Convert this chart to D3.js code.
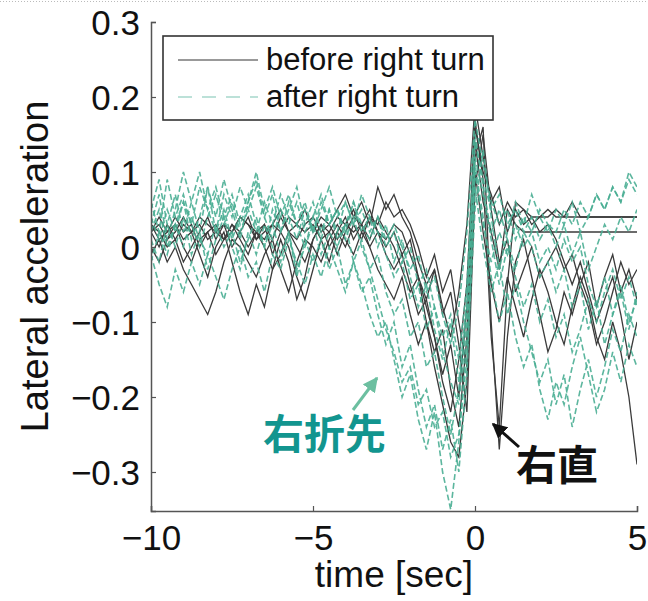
<!DOCTYPE html>
<html>
<head>
<meta charset="utf-8">
<script src="https://cdn.jsdelivr.net/npm/d3@7"></script>
<style>
  body { margin: 0; background: #fff; }
  svg { display: block; font-family: "Liberation Sans", Arial, sans-serif; }
</style>
</head>
<body>
<div id="chart"></div>
<script>
"use strict"

//-----------------------------DATA-----------------------------//
const time = [-10,-9.75,-9.5,-9.25,-9,-8.75,-8.5,-8.25,-8,-7.75,-7.5,-7.25,-7,-6.75,-6.5,-6.25,-6,-5.75,-5.5,-5.25,
    -5,-4.75,-4.5,-4.25,-4,-3.75,-3.5,-3.25,-3,-2.75,-2.5,-2.25,-2,-1.75,-1.5,-1.25,-1,-0.75,-0.5,-0.25,
    0,0.25,0.5,0.75,1,1.25,1.5,1.75,2,2.25,2.5,2.75,3,3.25,3.5,3.75,4,4.25,4.5,4.75,5];

// before right turn (solid)
const before1 = [.02,.03,.01,.02,.04,.02,.03,.01,.02,.03,.02,.04,.03,.02,.01,.03,.02,.04,.03,.02,.03,.01,.02,.04,.03,.02,.03,.05,.02,.01,.03,.02,
    -.01,-.04,-.08,-.12,-.18,-.22,-.15,-.05,.17,.09,-.12,-.24,-.05,.06,.05,.04,.04,.05,.04,.04,.04,.04,.04,.04,.04,.04,.04,.04,.04];
const before2 = [-.01,.01,-.02,.00,-.03,-.05,-.07,-.09,-.06,-.02,.01,.00,-.02,-.04,-.01,.01,-.03,-.06,-.02,.01,
    .00,-.02,.01,.03,.01,-.01,.02,.00,-.03,-.05,-.07,-.04,-.09,-.13,-.10,-.16,-.21,-.26,-.28,-.18,
    .10,.02,-.05,-.10,-.04,-.08,-.12,-.07,-.03,-.06,-.10,-.13,-.08,-.04,-.07,-.12,-.15,-.10,-.14,-.20,-.29];
const before3 = [.03,.02,.00,.01,.03,.02,-.01,-.04,.00,.02,-.02,-.06,-.09,-.05,-.08,-.03,.01,-.02,-.07,-.04,
    .01,.03,.02,-.01,.02,.04,.03,.01,.04,.02,.00,-.03,-.06,-.04,-.10,-.14,-.11,-.19,-.24,-.12,
    .14,.06,.02,-.03,.05,.03,.02,.02,.02,.02,.02,.02,.02,.02,.02,.02,.02,.02,.02,.02,.02];
const before4 = [.02,.04,.02,.03,.01,.02,.04,.03,.02,.01,.03,.02,.00,.02,.03,.01,.04,.02,.03,.05,
    .02,.04,.03,.05,.07,.04,.06,.03,.08,.05,.07,.04,.02,-.02,-.05,-.03,-.08,-.12,-.06,.03,
    .19,.12,.06,.08,.02,.05,.03,.04,.02,.03,.01,-.02,-.05,-.02,-.06,-.10,-.07,-.04,-.09,-.15,-.10];
const before5 = [.00,-.02,.01,.03,.00,-.02,.01,.02,-.01,.01,.03,.01,-.01,.02,.00,-.03,-.01,.02,.00,-.02,
    .01,.03,.00,.02,.04,.01,.03,.00,.02,-.01,-.03,-.01,-.05,-.09,-.07,-.12,-.17,-.13,-.20,-.08,
    .12,.16,-.10,-.27,-.12,-.02,.01,-.04,-.09,-.14,-.11,-.06,-.09,-.05,-.08,-.13,-.10,-.06,-.02,-.05,-.03];
const before6 = [.02,.00,.03,.01,-.02,.00,.02,.04,.01,.03,.00,.02,.04,.01,.03,-.01,.02,.00,-.04,-.07,
    -.03,.01,-.02,.02,.00,.03,.01,.04,.02,.00,.02,-.01,.01,-.04,-.07,-.03,-.09,-.06,-.13,-.22,
    .08,.15,.05,-.02,.01,-.06,-.03,.00,-.04,-.02,.00,-.03,-.01,-.05,-.02,-.08,-.04,-.01,-.06,-.03,-.07];
const before7 = [.03,.01,.02,.04,.02,.03,.00,.02,.03,.01,.02,.04,.03,.01,.02,.03,.05,.02,.01,.03,
    .04,.02,.03,.01,.03,.05,.02,.04,.03,.06,.04,.05,.03,.00,-.04,-.01,-.06,-.03,-.10,-.16,
    .16,.10,.07,.03,.06,.04,.05,.03,.04,.04,.05,.04,.06,.04,.04,.04,.04,.04,.04,.04,.04];

// after right turn (dashed)
const after1 = [.06,.02,.09,.04,.07,.03,.08,.05,.02,.07,.04,.08,.05,.02,.06,.03,.07,.04,.01,.05,
    .02,.06,.03,.05,.01,.04,.00,-.03,-.07,-.11,-.14,-.18,-.16,-.21,-.19,-.24,-.22,-.28,-.25,-.15,
    .05,.13,.04,-.03,.02,.06,.03,.07,.04,.02,.05,.03,.06,.02,.04,.07,.05,.08,.06,.09,.07];
const after2 = [-.01,-.05,-.08,-.03,-.06,-.02,-.05,-.01,-.04,-.07,-.03,.00,-.04,-.02,-.06,-.01,-.03,.01,-.02,-.05,
    -.01,-.04,.00,-.03,-.06,-.02,-.05,-.09,-.12,-.10,-.15,-.20,-.17,-.23,-.27,-.22,-.30,-.35,-.26,-.12,
    .08,.00,-.06,-.02,-.09,-.05,-.10,-.14,-.18,-.15,-.21,-.17,-.24,-.19,-.15,-.20,-.16,-.11,-.14,-.09,-.12];
const after3 = [.03,.07,.01,.05,.10,.06,.02,.08,.04,.09,.05,.01,.06,.09,.04,.07,.02,.05,.08,.03,
    .06,.02,.05,.01,.03,.06,.02,.04,.00,.03,-.02,.01,-.04,-.08,-.05,-.11,-.15,-.10,-.18,-.07,
    .15,.08,.02,.05,.01,-.03,.02,.00,-.04,-.02,-.06,-.03,-.08,-.05,-.11,-.07,-.13,-.09,-.05,-.10,-.07];
const after4 = [.01,-.02,.03,.00,.04,-.01,.02,-.03,.01,.04,.00,-.03,.02,-.01,.03,.00,-.02,.02,-.04,.01,
    -.02,.01,-.03,.00,-.05,-.02,-.06,-.04,-.09,-.13,-.10,-.16,-.13,-.19,-.24,-.21,-.27,-.23,-.30,-.17,
    .11,.04,-.04,-.10,-.06,-.12,-.16,-.13,-.19,-.23,-.18,-.21,-.16,-.12,-.17,-.22,-.19,-.14,-.18,-.13,-.16];
const after5 = [.04,.01,.05,.02,.06,.03,.00,.04,.07,.03,.06,.02,.05,.08,.04,.01,.05,.03,.06,.02,
    .04,.07,.03,.05,.02,.06,.03,.01,.04,.00,.02,-.02,.00,-.05,-.03,-.08,-.12,-.09,-.15,-.05,
    .14,.09,.05,.07,.03,.05,.02,.04,.01,.03,.02,.05,.03,.06,.04,.07,.05,.08,.06,.10,.08];
const after6 = [.02,.05,.00,.03,.06,.01,.04,.08,.02,.05,.01,.04,.07,.03,.00,.05,.02,.06,.03,.00,
    .04,.01,.05,.02,.06,.03,.07,.04,.02,-.01,-.04,-.02,-.07,-.05,-.11,-.08,-.14,-.18,-.21,-.10,
    .12,.07,.01,-.05,.00,-.04,-.08,-.05,-.10,-.07,-.12,-.09,-.14,-.11,-.07,-.10,-.06,-.03,-.07,-.04,-.08];
const after7 = [-.02,.02,-.01,.03,.00,.04,.01,-.01,.03,.00,.02,-.02,.01,.04,.00,.03,-.01,.02,-.03,.00,
    .03,-.01,.02,.00,.03,-.02,.01,-.03,-.01,-.06,-.09,-.07,-.12,-.10,-.16,-.14,-.20,-.25,-.19,-.08,
    .10,.03,-.02,.02,-.01,.03,.00,.02,-.02,.00,-.03,.01,-.02,.00,-.05,-.08,-.04,-.09,-.06,-.11,-.06];
const after8 = [.05,.09,.03,.07,.02,.06,.10,.05,.08,.04,.07,.03,.06,.10,.05,.08,.04,.07,.03,.06,
    .02,.05,.08,.04,.06,.03,.05,.02,.04,.01,.03,.00,-.03,-.01,-.06,-.04,-.09,-.13,-.08,.02,
    .17,.11,.06,.03,.05,.01,.04,.02,.05,.03,.00,.03,-.01,.02,-.03,.00,.03,.01,.04,.02,.05];

const beforeSeries = [before1, before2, before3, before4, before5, before6, before7];
const afterSeries = [after1, after2, after3, after4, after5, after6, after7, after8];

const xTicks = [-10, -5, 0, 5];
const yTicks = [0.3, 0.2, 0.1, 0, -0.1, -0.2, -0.3];
const legendLabels = ["before right turn", "after right turn"];

//-----------------------------SVG------------------------------//
const width = 648;
const height = 601;
const plotLeft = 151, plotRight = 637, plotTop = 22, plotBottom = 511;

const svg = d3.select("#chart").append("svg")
    .attr("width", width)
    .attr("height", height);

// dotted page edge at the top of the picture
svg.append("line")
    .attr("x1", 0).attr("x2", width)
    .attr("y1", 1.5).attr("y2", 1.5)
    .attr("stroke", "#bbb")
    .attr("stroke-dasharray", "1,2");

//----------------------------SCALES----------------------------//
const xScale = d3.scaleLinear().domain([-10, 5]).range([plotLeft, plotRight]);
const yScale = d3.scaleLinear().domain([-0.352, 0.3]).range([plotBottom, plotTop]);

const fmt = d => d === 0 ? "0" : (d < 0 ? "\u2212" : "") + (Number.isInteger(d) ? Math.abs(d) : d3.format(".1f")(Math.abs(d)));

svg.append("clipPath").attr("id", "plotclip")
    .append("rect")
    .attr("x", plotLeft).attr("y", plotTop)
    .attr("width", plotRight - plotLeft).attr("height", plotBottom - plotTop);

//----------------------------LINES-----------------------------//
const line = d3.line()
    .x((d, i) => xScale(time[i]))
    .y(d => yScale(d));

const plot = svg.append("g").attr("clip-path", "url(#plotclip)");

plot.selectAll(".before")
    .data(beforeSeries)
    .enter()
    .append("path")
    .attr("class", "before")
    .attr("d", line)
    .attr("fill", "none")
    .attr("stroke", "#3b3b3b")
    .attr("stroke-width", 1.3)
    .attr("stroke-linejoin", "miter");

plot.selectAll(".after")
    .data(afterSeries)
    .enter()
    .append("path")
    .attr("class", "after")
    .attr("d", line)
    .attr("fill", "none")
    .attr("stroke", "#4aae93")
    .attr("stroke-width", 1.6)
    .attr("stroke-dasharray", "6,3")
    .attr("opacity", 0.9);

//-----------------------------AXES-----------------------------//
const xaxis = d3.axisBottom(xScale)
    .tickValues(xTicks)
    .tickSize(-5)
    .tickPadding(14)
    .tickFormat(fmt);

const yaxis = d3.axisLeft(yScale)
    .tickValues(yTicks)
    .tickSize(-5)
    .tickPadding(11)
    .tickFormat(fmt);

const xaxisEl = svg.append("g")
    .attr("transform", "translate(0," + plotBottom + ")")
    .call(xaxis);

const yaxisEl = svg.append("g")
    .attr("transform", "translate(" + plotLeft + ",0)")
    .call(yaxis);

[xaxisEl, yaxisEl].forEach(g => {
    g.select(".domain").attr("stroke", "#555").attr("stroke-width", 1.5);
    g.selectAll(".tick line").attr("stroke", "#555").attr("stroke-width", 1.2);
    g.selectAll(".tick text")
        .attr("fill", "#111")
        .style("font-size", "35px")
        .style("font-family", "Liberation Sans, Arial, sans-serif");
});
yaxisEl.selectAll(".tick text").attr("dy", "0.36em");
xaxisEl.selectAll(".tick text").attr("dy", "0.72em");

svg.append("text")
    .attr("x", (plotLeft + plotRight) / 2)
    .attr("y", 587)
    .attr("text-anchor", "middle")
    .style("font-size", "37px")
    .attr("fill", "#111")
    .text("time [sec]");

svg.append("text")
    .attr("transform", "translate(48," + ((plotTop + plotBottom) / 2) + ") rotate(-90)")
    .attr("text-anchor", "middle")
    .style("font-size", "38px")
    .attr("fill", "#111")
    .text("Lateral acceleration");

//----------------------------LEGEND----------------------------//
const legend = svg.append("g");
legend.append("rect")
    .attr("x", 163).attr("y", 36)
    .attr("width", 330).attr("height", 84)
    .attr("fill", "#fff")
    .attr("stroke", "#333")
    .attr("stroke-width", 1.6);

legend.selectAll(".lg-line")
    .data(legendLabels)
    .enter()
    .append("line")
    .attr("x1", 178).attr("x2", 258)
    .attr("y1", (d, i) => 60 + i * 37)
    .attr("y2", (d, i) => 60 + i * 37)
    .attr("stroke", (d, i) => i === 0 ? "#777" : "#a6d8cc")
    .attr("stroke-width", 1.6)
    .attr("stroke-dasharray", (d, i) => i === 0 ? null : "14,10");

legend.selectAll(".lg-text")
    .data(legendLabels)
    .enter()
    .append("text")
    .attr("x", 266)
    .attr("y", (d, i) => 70 + i * 37)
    .style("font-size", "31px")
    .attr("fill", "#111")
    .text(d => d);

//-------------------------ANNOTATIONS--------------------------//
const defs = svg.append("defs");
[["headTeal", "#6cbfa0"], ["headBlack", "#111"]].forEach(([id, c]) => {
    defs.append("marker")
        .attr("id", id)
        .attr("viewBox", "0 0 10 10")
        .attr("refX", 9).attr("refY", 5)
        .attr("markerWidth", 5).attr("markerHeight", 5)
        .attr("orient", "auto")
        .append("path")
        .attr("d", "M0,0L10,5L0,10Z")
        .attr("fill", c);
});

svg.append("line")
    .attr("x1", 353).attr("y1", 410)
    .attr("x2", 377).attr("y2", 378)
    .attr("stroke", "#6cbfa0")
    .attr("stroke-width", 3)
    .attr("marker-end", "url(#headTeal)");

svg.append("line")
    .attr("x1", 519).attr("y1", 447)
    .attr("x2", 493).attr("y2", 424)
    .attr("stroke", "#111")
    .attr("stroke-width", 3)
    .attr("marker-end", "url(#headBlack)");

svg.append("text")
    .attr("x", 263).attr("y", 449)
    .style("font-family", "Noto Sans CJK JP, sans-serif")
    .style("font-size", "41px")
    .style("font-weight", "bold")
    .attr("fill", "#12958f")
    .text("右折先");

svg.append("text")
    .attr("x", 516).attr("y", 480)
    .style("font-family", "Noto Sans CJK JP, sans-serif")
    .style("font-size", "41px")
    .style("font-weight", "bold")
    .attr("fill", "#111")
    .text("右直");
</script>
</body>
</html>
